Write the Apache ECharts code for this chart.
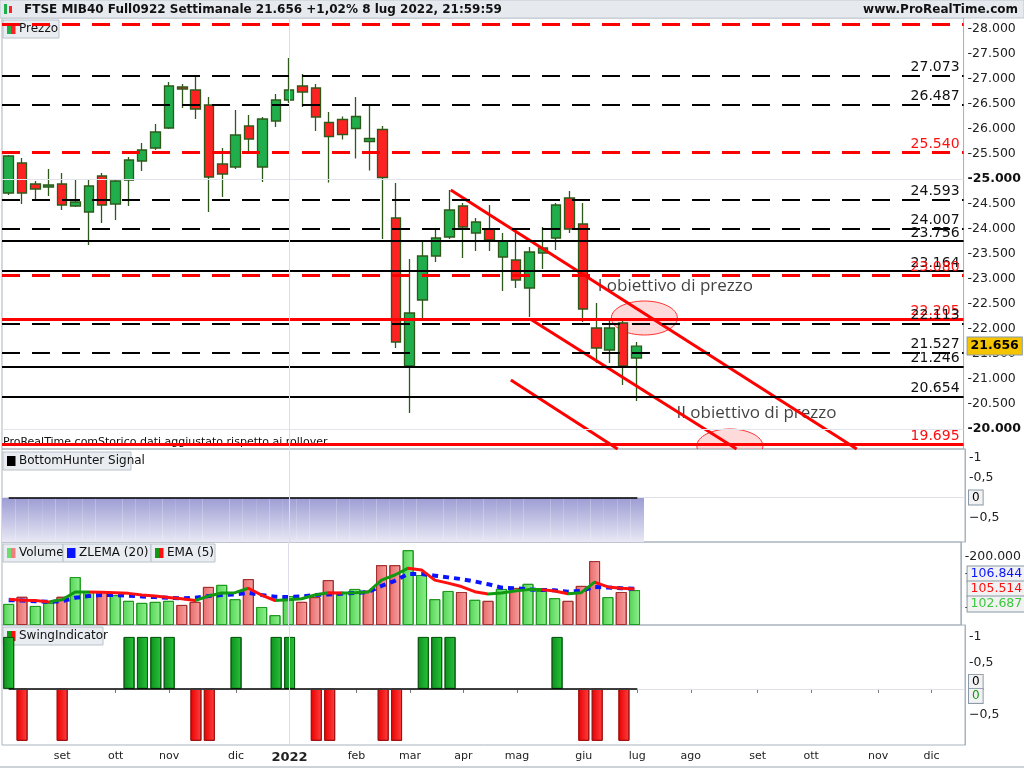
<!DOCTYPE html>
<html>
<head>
<meta charset="utf-8">
<script src="https://cdn.jsdelivr.net/npm/echarts@6/dist/echarts.min.js"></script>
<style>
  html, body { margin: 0; padding: 0; background: #fff; }
  #chart { width: 1024px; height: 768px; }
</style>
</head>
<body>
<div id="chart"></div>
<script>
// settimane: 16 ago 2021 .. 4 lug 2022, asse fino a fine dic 2022
var nSlots = 72;
var monthTicks = { 4: 'set', 8: 'ott', 12: 'nov', 17: 'dic', 21: '2022', 26: 'feb', 30: 'mar', 34: 'apr',
  38: 'mag', 43: 'giu', 47: 'lug', 51: 'ago', 56: 'set', 60: 'ott', 65: 'nov', 69: 'dic' };

// [open, close, low, high]
var candles = [
  [24.72, 25.46, 24.68, 25.48], [25.32, 24.72, 24.50, 25.42], [24.90, 24.80, 24.60, 24.96],
  [24.84, 24.88, 24.66, 25.20], [24.90, 24.48, 24.38, 25.12], [24.46, 24.54, 24.44, 24.98],
  [24.34, 24.86, 23.68, 25.00], [25.06, 24.48, 24.12, 25.12], [24.50, 24.96, 24.18, 25.00],
  [24.98, 25.38, 24.46, 25.44], [25.36, 25.58, 25.16, 25.72], [25.62, 25.94, 25.58, 26.10],
  [26.02, 26.86, 26.00, 26.94], [26.84, 26.80, 26.42, 26.90], [26.78, 26.40, 26.20, 27.04],
  [26.48, 25.04, 24.34, 26.64], [25.30, 25.10, 24.64, 25.62], [25.24, 25.88, 25.20, 26.38],
  [26.06, 25.80, 25.52, 26.28], [25.24, 26.20, 24.94, 26.24], [26.16, 26.58, 26.04, 26.70],
  [26.58, 26.78, 26.52, 27.42], [26.86, 26.74, 26.44, 27.10], [26.82, 26.24, 25.96, 26.90],
  [26.13, 25.85, 24.93, 26.34], [26.19, 25.89, 25.79, 26.25], [26.01, 26.25, 25.41, 26.64],
  [25.75, 25.81, 25.17, 26.46], [25.99, 25.03, 23.80, 26.06], [24.22, 21.74, 21.62, 24.92],
  [21.26, 22.32, 20.32, 23.40], [22.58, 23.46, 22.18, 23.76], [23.46, 23.82, 23.34, 24.00],
  [23.84, 24.38, 23.80, 24.78], [24.46, 24.04, 23.42, 24.52], [23.92, 24.14, 23.56, 24.22],
  [24.00, 23.78, 23.56, 24.48], [23.44, 23.76, 22.76, 23.92], [23.38, 22.98, 22.82, 24.00],
  [22.82, 23.54, 22.24, 23.64], [23.52, 23.62, 23.20, 24.04], [23.82, 24.48, 23.58, 24.52],
  [24.62, 24.00, 23.92, 24.76], [24.10, 22.40, 22.14, 24.52], [22.02, 21.62, 21.32, 22.52],
  [21.58, 22.02, 21.32, 22.18], [22.12, 21.26, 20.88, 22.18], [21.42, 21.656, 20.56, 21.74]
];

var volume = [62, 83, 56, 65, 83, 141, 97, 97, 88, 71, 65, 68, 71, 59, 68, 112, 118, 76, 135, 53, 29, 85, 68, 82, 132,
  94, 106, 101, 176, 176, 220, 147, 76, 100, 97, 74, 71, 106, 109, 121, 100, 79, 71, 115, 188, 82, 97, 102.687];
var volColor = 'GRGGRGGRGGGGGRRRGGRGGGRRRGGRRRGGGGRGRGRGGGRRRGRG';
var zlema = [73, 72, 70, 68, 70, 80, 85, 88, 88, 86, 84, 82, 80, 78, 80, 85, 88, 90, 95, 88, 83, 82, 84, 88, 90,
  92, 94, 97, 115, 130, 150, 150, 145, 140, 135, 128, 120, 110, 108, 105, 103, 102, 98, 100, 112, 110, 108, 106.844];
var ema = [76, 73, 72, 68, 74, 97, 97, 96, 95, 93, 88, 85, 81, 77, 72, 85, 94, 95, 108, 88, 72, 74, 77, 88, 95,
  94, 95, 97, 132, 147, 167, 162, 132, 123, 113, 98, 91, 94, 100, 104, 104, 100, 92, 95, 126, 112, 108, 105.514];

var swingUp = [0, 9, 10, 11, 12, 17, 20, 21, 31, 32, 33, 41];
var swingDown = [1, 4, 14, 15, 23, 24, 28, 29, 43, 44, 46];

// livelli orizzontali: [valore, stile, etichetta]
var levels = [
  [28.1, 'rd', false], [27.073, 'bd', true], [26.487, 'bd', true], [25.540, 'rd', true], [24.593, 'bd', true],
  [24.007, 'bd', true], [23.756, 'bs', true], [23.164, 'bs', true], [23.080, 'rd', true], [22.205, 'rs', true],
  [22.113, 'bd', true], [21.527, 'bd', true], [21.246, 'bs', true], [20.654, 'bs', true], [19.695, 'rs', true]
];
// trendline [x0, y0, x1, y1] in settimane / prezzo
var trendLines = [[33.1, 24.78, 63.5, 19.6], [39.05, 22.2, 54.5, 19.6], [37.6, 20.98, 45.6, 19.6]];
var targets = [[47.6, 22.22], [54.0, 19.66]];
var targetTexts = [[44.1, 22.86, 'I obiettivo di prezzo'], [50.0, 20.32, 'II obiettivo di prezzo']];
// ultimi valori volume: [valore, colore testo]
var volTags = [[106.844, '#0a14ff'], [105.514, '#ff1010'], [102.687, '#3cc83c']];

var cats = [];
for (var i = 0; i < nSlots; i++) cats.push(String(i));

var F = 'DejaVu Sans';
var gridBorder = '#a9b3bd';
var L = 2, R = 59;

function xCat(gi, showLabels) {
  return {
    type: 'category', gridIndex: gi, data: cats, boundaryGap: true,
    axisLine: { show: false }, splitLine: { show: false },
    axisTick: { show: showLabels, interval: function (i) { return monthTicks[i] !== undefined; },
      alignWithLabel: true, length: 4, lineStyle: { color: '#777' } },
    axisLabel: {
      show: showLabels, interval: function (i) { return monthTicks[i] !== undefined; },
      formatter: function (v) {
        var t = monthTicks[+v];
        return t === '2022' ? '{b|2022}' : t;
      },
      color: '#222', fontFamily: F, fontSize: 11, margin: 6,
      rich: { b: { fontWeight: 'bold', fontSize: 13, fontFamily: F, color: '#222' } }
    }
  };
}

function yVal(gi, min, max, ticks, fmt) {
  return {
    type: 'value', gridIndex: gi, min: min, max: max, position: 'right',
    splitLine: { show: false },
    axisLine: { show: true, onZero: false, lineStyle: { color: gridBorder } },
    axisTick: { show: false },
    axisLabel: { customValues: ticks, formatter: fmt, color: '#222', fontFamily: F, fontSize: 12.5, margin: 4,
      rich: { b: { fontWeight: 'bold', fontFamily: F, fontSize: 12.5, color: '#111' } } }
  };
}

var priceTicks = [];
for (var p = 20; p <= 28; p += 0.5) priceTicks.push(p);

function lineStyleFor(s) {
  var red = s[0] === 'r';
  var dashed = s[1] === 'd';
  return { color: red ? '#ff0000' : '#000', width: red ? 3 : 2, type: dashed ? [18, 12] : 'solid' };
}

var levelData = levels.map(function (l) {
  return {
    yAxis: l[0], lineStyle: lineStyleFor(l[1]),
    label: { show: l[2], position: 'insideEndTop', formatter: l[0].toFixed(3), color: l[1][0] === 'r' ? '#ff1010' : '#111',
      fontFamily: F, fontSize: 14, distance: [4, 1] }
  };
});
levelData.push({ yAxis: 25, lineStyle: { color: '#e2e4ec', width: 1, type: 'solid' }, label: { show: false } });
levelData.push({ yAxis: 20, lineStyle: { color: '#e2e4ec', width: 1, type: 'solid' }, label: { show: false } });
levelData.push({ yAxis: 21.656, lineStyle: { color: 'transparent', width: 0 },
  label: { show: true, position: 'end', formatter: '21.656', backgroundColor: '#f5c400', borderColor: '#8a9aa8',
    borderWidth: 1, padding: [2, 3], color: '#000', fontWeight: 'bold', fontFamily: F, fontSize: 12.5, distance: 4 } });

var vline2022 = { xAxis: 21, lineStyle: { color: '#dcdde8', width: 1, type: 'solid' }, label: { show: false } };

var series = [];
series.push({
  type: 'candlestick', xAxisIndex: 0, yAxisIndex: 0, data: candles, barWidth: 10,
  itemStyle: { color: '#1fae4b', color0: '#ff2222', borderColor: '#2d5a1b', borderColor0: '#2d5a1b', borderWidth: 1.3 },
  markLine: { silent: true, symbol: 'none', animation: false, data: levelData.concat([vline2022]) }
});
trendLines.forEach(function (t) {
  series.push({ type: 'line', xAxisIndex: 4, yAxisIndex: 0, data: [[t[0], t[1]], [t[2], t[3]]], symbol: 'none',
    lineStyle: { color: '#ff0000', width: 3 }, clip: true, silent: true });
});
// ellissi obiettivo, ritagliate sull'area del pannello prezzo
series.push({
  type: 'custom', xAxisIndex: 4, yAxisIndex: 0, data: targets, silent: true, z: 1,
  renderItem: function (params, api) {
    var c = api.coord([api.value(0), api.value(1)]);
    var cs = params.coordSys;
    return { type: 'group', clipPath: { type: 'rect', shape: { x: cs.x, y: cs.y, width: cs.width, height: cs.height } },
      children: [{ type: 'ellipse', shape: { cx: c[0], cy: c[1], rx: 33, ry: 17 },
        style: { fill: 'rgba(255,150,150,0.35)', stroke: '#ff3030', lineWidth: 1 } }] };
  }
});
series.push({ type: 'scatter', xAxisIndex: 4, yAxisIndex: 0, symbolSize: 0, silent: true,
  data: targetTexts.map(function (t) { return { value: [t[0], t[1]], label: { formatter: t[2] } }; }),
  label: { show: true, position: 'right', distance: 0, color: '#111', fontFamily: 'Open Sans', fontSize: 17,
    textBorderWidth: 0 } });

// BottomHunter
series.push({
  type: 'bar', xAxisIndex: 1, yAxisIndex: 1, barCategoryGap: 0, barGap: 0,
  data: candles.map(function () { return -1.125; }),
  itemStyle: { color: new echarts.graphic.LinearGradient(0, 0, 0, 1, [{ offset: 0, color: '#9c9cd4' }, { offset: 1, color: '#e8e8f5' }]) },
  markLine: { silent: true, symbol: 'none', animation: false, data: [
    { yAxis: 0, lineStyle: { color: '#dfe1ea', width: 1, type: 'solid' },
      label: { show: true, position: 'end', formatter: '0', backgroundColor: '#f2f2f2', borderColor: '#8a9aa8',
        borderWidth: 1, padding: [1, 3], color: '#000', fontFamily: F, fontSize: 12, distance: 4 } },
    [{ coord: ['0', 0], lineStyle: { color: '#000', width: 1.5, type: 'solid' } }, { coord: ['47', 0] }],
    vline2022
  ] }
});

// Volume
series.push({
  type: 'bar', xAxisIndex: 2, yAxisIndex: 2, barWidth: 11,
  data: volume.map(function (v, i) {
    var g = volColor[i] === 'G';
    return { value: v, itemStyle: {
      color: new echarts.graphic.LinearGradient(0, 0, 1, 0, g
        ? [{ offset: 0, color: '#55d455' }, { offset: 1, color: '#8ff08f' }]
        : [{ offset: 0, color: '#e76b6b' }, { offset: 1, color: '#f7a0a0' }]),
      borderColor: g ? '#1f9a1f' : '#a33030', borderWidth: 1 } };
  }),
  markLine: { silent: true, symbol: 'none', animation: false, data: [vline2022] }
});
series.push({
  type: 'line', xAxisIndex: 2, yAxisIndex: 2, data: zlema, symbol: 'none', z: 3,
  lineStyle: { color: '#0a14ff', width: 4, type: [6, 5] }
});
series.push({
  type: 'line', xAxisIndex: 2, yAxisIndex: 2, data: ema, symbol: 'none', z: 4,
  lineStyle: { width: 3 }
});
var emaIdx = series.length - 1;
var pieces = [];
for (var k = 1; k < ema.length; k++) {
  pieces.push({ gte: k - 1, lt: k, color: ema[k] >= ema[k - 1] ? '#119911' : '#ff1010' });
}

// Swing
var swing = candles.map(function () { return null; });
swingUp.forEach(function (i) { swing[i] = 1; });
swingDown.forEach(function (i) { swing[i] = -1; });
series.push({
  type: 'bar', xAxisIndex: 3, yAxisIndex: 3, barWidth: 11,
  data: swing.map(function (v) {
    if (v === null) return null;
    return { value: v, itemStyle: { color: new echarts.graphic.LinearGradient(0, 0, 1, 0, v > 0
      ? [{ offset: 0, color: '#0f8f1f' }, { offset: 1, color: '#27c43a' }]
      : [{ offset: 0, color: '#e80000' }, { offset: 1, color: '#ff4040' }]),
      borderColor: v > 0 ? '#0b5a12' : '#a01010', borderWidth: 1 } };
  }),
  markLine: { silent: true, symbol: 'none', animation: false, data: [
    { yAxis: 0, lineStyle: { color: '#dfe1ea', width: 1, type: 'solid' },
      label: { show: true, position: 'end', formatter: '{a|0}\n{g|0}', distance: 4,
        rich: {
          a: { backgroundColor: '#f2f2f2', borderColor: '#8a9aa8', borderWidth: 1, padding: [1, 3], color: '#000', fontFamily: F, fontSize: 12 },
          g: { backgroundColor: '#f2f2f2', borderColor: '#8a9aa8', borderWidth: 1, padding: [1, 3], color: '#119911', fontFamily: F, fontSize: 12 }
        } } },
    [{ coord: ['0', 0], lineStyle: { color: '#000', width: 1.5, type: 'solid' } }, { coord: ['47', 0] }],
    vline2022
  ] }
});

function legendBox(x, y, items) {
  var children = [];
  var cx = x;
  items.forEach(function (it) {
    var w = it.w;
    children.push({ type: 'rect', shape: { x: cx, y: y, width: w, height: 18 },
      style: { fill: '#e9edf1', stroke: '#b9c2cb', lineWidth: 1 } });
    it.sw.forEach(function (c, j) {
      children.push({ type: 'rect', shape: { x: cx + 4 + j * (8 / it.sw.length), y: y + 4, width: 8 / it.sw.length + 0.5, height: 10 },
        style: { fill: c } });
    });
    children.push({ type: 'text', x: cx + 16, y: y + 9, style: { text: it.t, fill: '#111', font: '12px "DejaVu Sans"', verticalAlign: 'middle' } });
    cx += w;
  });
  return { type: 'group', children: children };
}

function commaFmt(v) { return v < 0 ? String(v).replace('.', ',').replace('-', '\u2212') : '-' + String(v).replace('.', ','); }

var baseGraphic = [
  { type: 'rect', shape: { x: 0, y: 0, width: 1024, height: 18 }, style: { fill: '#e6eaee', stroke: '#c2c9d0' } },
  { type: 'rect', shape: { x: 4, y: 4, width: 3, height: 10 }, style: { fill: '#1fae4b' } },
  { type: 'rect', shape: { x: 9, y: 6, width: 3, height: 7 }, style: { fill: '#ff2222' } },
  { type: 'text', x: 24, y: 10, style: { text: 'FTSE MIB40 Full0922 Settimanale 21.656 +1,02% 8 lug 2022, 21:59:59',
    fill: '#111', font: 'bold 12px "DejaVu Sans"', verticalAlign: 'middle' } },
  { type: 'text', x: 1018, y: 10, style: { text: 'www.ProRealTime.com', fill: '#111', font: 'bold 12px "DejaVu Sans"',
    align: 'right', verticalAlign: 'middle' } },
  legendBox(3, 20, [{ t: 'Prezzo', w: 56, sw: ['#1fae4b', '#ff2222'] }]),
  legendBox(3, 452, [{ t: 'BottomHunter Signal', w: 128, sw: ['#000'] }]),
  legendBox(3, 544, [{ t: 'Volume', w: 60, sw: ['#6fdc6f', '#ee8080'] }, { t: 'ZLEMA (20)', w: 88, sw: ['#0a14ff'] },
    { t: 'EMA (5)', w: 64, sw: ['#119911', '#ff1010'] }]),
  legendBox(3, 627, [{ t: 'SwingIndicator', w: 100, sw: ['#119911', '#ff1010'] }]),
  { type: 'text', x: 3, y: 442, style: { text: 'ProRealTime.comStorico dati aggiustato rispetto ai rollover',
    fill: '#111', font: '11px "DejaVu Sans"', verticalAlign: 'middle' } },
  { type: 'line', shape: { x1: 0, y1: 767, x2: 1024, y2: 767 }, style: { stroke: '#9aa5b1' } }
];

var option = {
  animation: false,
  backgroundColor: '#fff',
  grid: [
    { left: L, right: R, top: 18, height: 431, show: true, borderColor: gridBorder, borderWidth: 1 },
    { left: L, right: R, top: 449, height: 93, show: true, borderColor: gridBorder, borderWidth: 1 },
    { left: L, right: R, top: 542, height: 83, show: true, borderColor: gridBorder, borderWidth: 1 },
    { left: L, right: R, top: 625, height: 120, show: true, borderColor: gridBorder, borderWidth: 1 }
  ],
  xAxis: [xCat(0, false), xCat(1, false), xCat(2, false), xCat(3, true),
    { type: 'value', gridIndex: 0, min: -0.5, max: nSlots - 0.5, show: false,
      axisLine: { show: false }, axisTick: { show: false }, axisLabel: { show: false }, splitLine: { show: false } }],
  yAxis: [
    yVal(0, 19.6, 28.22, priceTicks, function (v) {
      var s = '-' + v.toFixed(3);
      return (v === 20 || v === 25) ? '{b|' + s + '}' : s;
    }),
    yVal(1, -1.125, 1.225, [1, 0.5, -0.5], commaFmt),
    yVal(2, 0, 244, [50, 150, 200], function (v) { return '-' + v + '.000'; }),
    yVal(3, -1.08, 1.23, [1, 0.5, -0.5], commaFmt)
  ],
  visualMap: [{ show: false, type: 'piecewise', seriesIndex: emaIdx, dimension: 0, pieces: pieces }],
  series: series,
  graphic: baseGraphic
};

var chart = echarts.init(document.getElementById('chart'));
chart.setOption(option);

// etichette valore volume impilate, ancorate all'ultimo valore della scala
var baseY = chart.convertToPixel({ yAxisIndex: 2 }, volTags[1][0]);
var tagX = chart.convertToPixel({ xAxisIndex: 4 }, nSlots - 0.5) + 4;
var tagGraphic = volTags.map(function (t, j) {
  return { type: 'text', x: tagX, y: baseY + (j - 1) * 15, z: 100,
    style: { text: t[0].toFixed(3), fill: t[1], font: '12.5px "DejaVu Sans"', verticalAlign: 'middle',
      backgroundColor: '#f2f2f2', borderColor: '#8a9aa8', borderWidth: 1, padding: [1, 3] } };
});
chart.setOption({ graphic: baseGraphic.concat(tagGraphic) });
</script>
</body>
</html>
